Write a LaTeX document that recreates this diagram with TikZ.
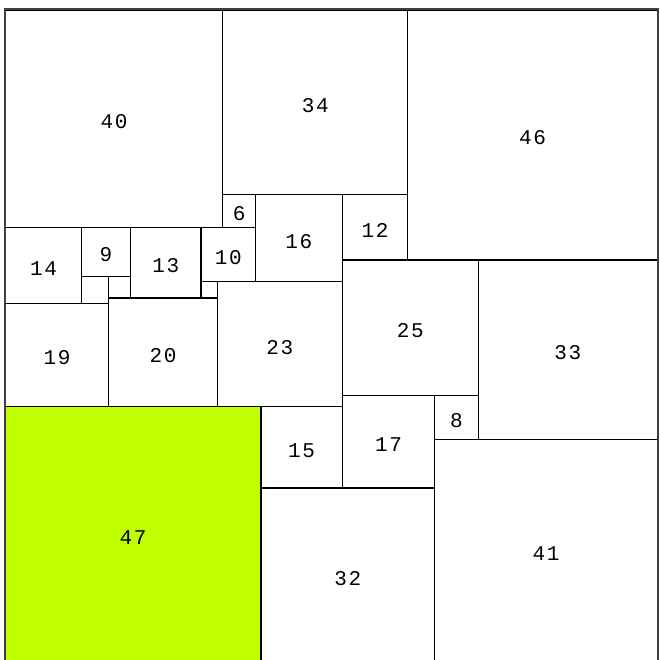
\documentclass[tikz,border=0pt]{standalone}
\usepackage{fontspec}
\newfontfamily\sqfont[LetterSpace=8]{Liberation Mono}
\usepackage{tikz}
\definecolor{limefill}{RGB}{192,255,0}
\tikzset{
  sq/.style={rectangle, draw, line width=0.7pt, inner sep=0pt,
             text height=10.5pt, font=\sqfont\fontsize{11}{12}\selectfont},
  gap/.style={rectangle, draw, line width=0.7pt, inner sep=0pt},
  frame/.style={draw=black!75, line width=1.2pt},
}

\begin{document}
\begin{tikzpicture}[x=1mm, y=-1mm]
  \clip (-1.01,-1.84) rectangle (120.28,119.63);
  % top row
  \node[sq, minimum size=40mm] (s40) at (20,20) {40};
  \node[sq, minimum size=34mm] (s34) at (57,17) {34};
  \node[sq, minimum size=46mm] (s46) at (97,23) {46};
  \node[sq, minimum size=6mm] (s6) at (43,37) {6};
  \node[sq, minimum size=16mm] (s16) at (54,42) {16};
  \node[sq, minimum size=12mm] (s12) at (68,40) {12};
  % middle
  \node[sq, minimum size=14mm] (s14) at (7,47) {14};
  \node[sq, minimum size=9mm] (s9) at (18.5,44.5) {9};
  \node[sq, minimum size=13mm] (s13) at (29.5,46.5) {13};
  \node[sq, minimum size=10mm] (s10) at (41,45) {10};
  \node[gap, minimum size=5mm] (s5) at (16.5,51.5) {};
  \node[gap, minimum size=4mm] (s4) at (21,51) {};
  \node[gap, minimum size=3mm] (s3) at (37.5,51.5) {};
  \node[sq, minimum size=25mm] (s25) at (74.5,58.5) {25};
  \node[sq, minimum size=33mm] (s33) at (103.5,62.5) {33};
  \node[sq, minimum size=19mm] (s19) at (9.5,63.5) {19};
  \node[sq, minimum size=20mm] (s20) at (29,63) {20};
  \node[sq, minimum size=23mm] (s23) at (50.5,61.5) {23};
  % bottom
  \node[sq, fill=limefill, minimum size=47mm] (s47) at (23.5,96.5) {47};
  \node[sq, minimum size=15mm] (s15) at (54.5,80.5) {15};
  \node[sq, minimum size=17mm] (s17) at (70.5,79.5) {17};
  \node[sq, minimum size=8mm] (s8) at (83,75) {8};
  \node[sq, minimum size=41mm] (s41) at (99.5,99.5) {41};
  \node[sq, minimum size=32mm] (s32) at (63,104) {32};
  % outer border
  \path[frame] (s40.north west) rectangle (s41.south east);
\end{tikzpicture}
\end{document}
